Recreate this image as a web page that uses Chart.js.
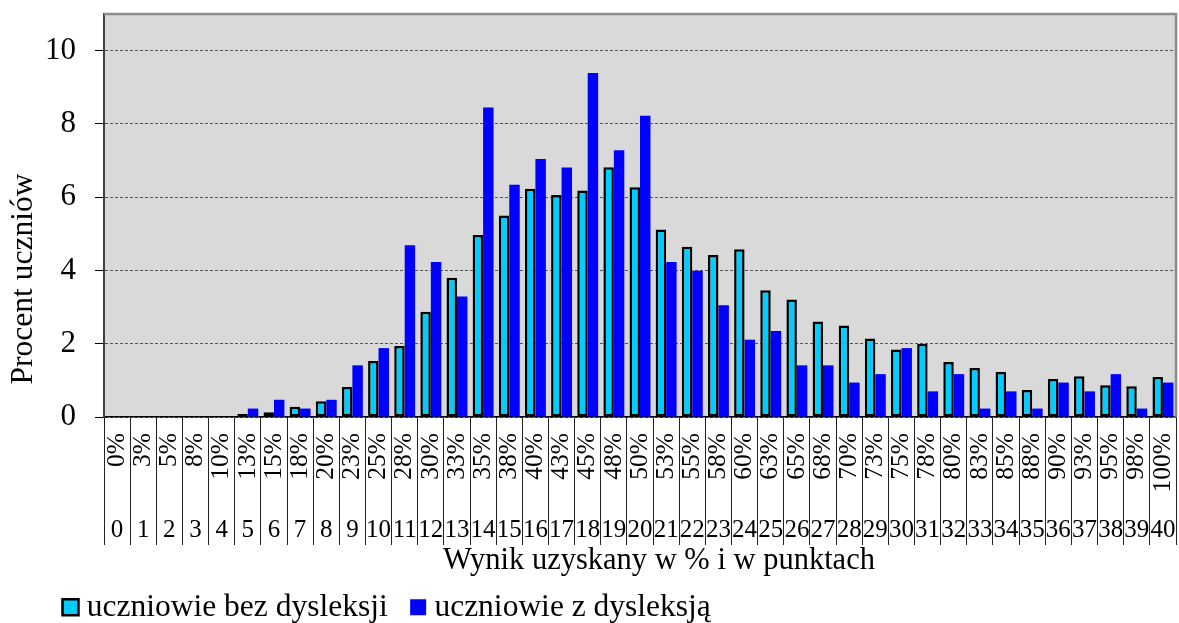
<!DOCTYPE html>
<html lang="pl">
<head>
<meta charset="UTF-8">
<title>Wynik uzyskany w % i w punktach</title>
<script src="https://cdn.jsdelivr.net/npm/chart.js"></script>
<style>
  html, body { margin: 0; padding: 0; background: #ffffff; }
  canvas { display: block; }
</style>
</head>
<body>
<canvas id="wyniki" width="1179" height="623"></canvas>
<script>
  // score in percent (upper label row) and in points (lower label row)
  const percentLabels = ['0%','3%','5%','8%','10%','13%','15%','18%','20%','23%','25%','28%','30%','33%',
    '35%','38%','40%','43%','45%','48%','50%','53%','55%','58%','60%','63%','65%','68%','70%','73%',
    '75%','78%','80%','83%','85%','88%','90%','93%','95%','98%','100%'];
  const pointLabels = ['0','1','2','3','4','5','6','7','8','9','10','11','12','13','14','15','16','17',
    '18','19','20','21','22','23','24','25','26','27','28','29','30','31','32','33','34','35','36',
    '37','38','39','40'];

  // percent of students at each score
  const bezDysleksji = [0, 0, 0, 0, 0.03, 0.08, 0.13, 0.28, 0.43, 0.82, 1.53, 1.94, 2.87, 3.80, 4.97,
    5.50, 6.23, 6.06, 6.18, 6.82, 6.27, 5.12, 4.65, 4.42, 4.58, 3.46, 3.21, 2.61, 2.50, 2.14, 1.84,
    2.00, 1.50, 1.34, 1.23, 0.74, 1.04, 1.11, 0.87, 0.84, 1.09];
  const zDysleksja = [0, 0, 0, 0, 0, 0.23, 0.47, 0.23, 0.47, 1.41, 1.88, 4.69, 4.23, 3.29, 8.45,
    6.34, 7.04, 6.81, 9.39, 7.28, 8.22, 4.23, 3.99, 3.05, 2.11, 2.35, 1.41, 1.41, 0.94, 1.17, 1.88,
    0.70, 1.17, 0.23, 0.70, 0.23, 0.94, 0.70, 1.17, 0.23, 0.94];

  const yTicks = [0, 2, 4, 6, 8, 10];

  const serif = "'Liberation Serif', 'Times New Roman', serif";

  // grey plot background, frame and the two axis captions
  const frame = {
    id: 'frame',
    beforeDraw(chart) {
      const { ctx, chartArea: a } = chart;
      ctx.save();
      ctx.fillStyle = '#d9d9d9';
      ctx.fillRect(a.left, a.top, a.width, a.height);
      ctx.restore();
    },
    afterDraw(chart) {
      const { ctx, chartArea: a } = chart;
      ctx.save();
      ctx.strokeStyle = '#8c8c8c';
      ctx.lineWidth = 2.5;
      ctx.beginPath();
      ctx.moveTo(a.left, a.top);
      ctx.lineTo(a.right, a.top);
      ctx.lineTo(a.right, a.bottom);
      ctx.stroke();

      ctx.fillStyle = '#000';
      ctx.textAlign = 'center';
      ctx.textBaseline = 'middle';
      ctx.font = '30.5px ' + serif;
      ctx.fillText('Wynik uzyskany w % i w punktach', 659, 561);

      ctx.translate(24, 279);
      ctx.rotate(-Math.PI / 2);
      ctx.font = '31.5px ' + serif;
      ctx.fillText('Procent uczniów', 0, 0);
      ctx.restore();
    }
  };

  new Chart(document.getElementById('wyniki'), {
    type: 'bar',
    data: {
      labels: percentLabels,
      datasets: [
        {
          label: 'uczniowie bez dysleksji',
          data: bezDysleksji,
          backgroundColor: '#00ccff',
          borderColor: '#000000',
          borderWidth: 2.5,
          borderSkipped: false
        },
        {
          label: 'uczniowie z dysleksją',
          data: zDysleksja,
          backgroundColor: '#0000ff',
          borderWidth: 0
        }
      ]
    },
    options: {
      responsive: false,
      animation: false,
      devicePixelRatio: 1,
      layout: { padding: { left: 40, top: 14, right: 3, bottom: -10 } },
      datasets: { bar: { categoryPercentage: 0.8, barPercentage: 1 } },
      plugins: {
        tooltip: { enabled: false },
        legend: {
          position: 'bottom',
          align: 'start',
          labels: {
            color: '#000',
            font: { family: serif, size: 31.5 },
            usePointStyle: true,
            pointStyle: 'rect',
            boxWidth: 1,
            boxHeight: 16,
            padding: 30
          }
        }
      },
      scales: {
        x: {
          offset: true,
          grid: { offset: true, drawOnChartArea: false, tickLength: 128, color: '#222', lineWidth: 1 },
          border: { color: '#000', width: 1.5 },
          ticks: {
            autoSkip: false,
            minRotation: 90,
            maxRotation: 90,
            padding: -112,
            color: '#000',
            font: { family: serif, size: 25.5 }
          },
          afterFit(s) { s.height = 88; s.paddingLeft = 0; s.paddingRight = 0; }
        },
        x2: {
          type: 'category',
          labels: pointLabels,
          position: 'bottom',
          offset: true,
          grid: { display: false, drawTicks: false },
          border: { display: false },
          ticks: {
            autoSkip: false,
            maxRotation: 0,
            padding: 10,
            color: '#000',
            font: { family: serif, size: 25 }
          },
          afterFit(s) { s.height = 56.5; s.paddingLeft = 0; s.paddingRight = 0; }
        },
        y: {
          min: 0,
          max: 11,
          afterBuildTicks(s) { s.ticks = yTicks.map(v => ({ value: v })); },
          grid: { color: '#555', lineWidth: 1, tickLength: 9, tickColor: '#000' },
          border: { color: '#404040', width: 2, dash: [3, 2] },
          ticks: {
            padding: 19,
            color: '#000',
            font: { family: serif, size: 31 }
          },
          afterFit(s) { s.width = 64; s.paddingTop = 0; s.paddingBottom = 0; }
        }
      }
    },
    plugins: [frame]
  });
</script>
</body>
</html>
